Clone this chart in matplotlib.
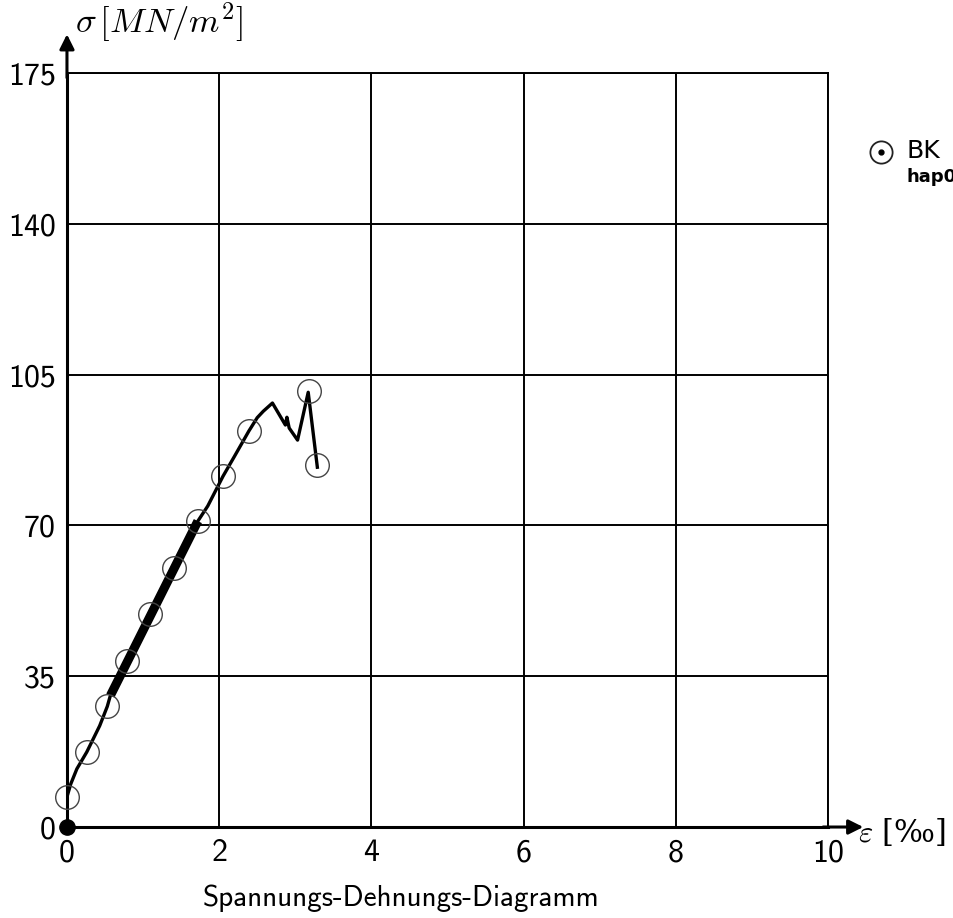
import numpy as np
import matplotlib
matplotlib.use("Agg")
import matplotlib.pyplot as plt

plt.rcParams['mathtext.fontset'] = 'cm'
plt.rcParams['font.family'] = ['cmss10', 'DejaVu Sans']
plt.rcParams['axes.unicode_minus'] = False

# thin measured curve (strain in permille, stress in MN/m^2)
curve_eps = [0.0, 0.05, 0.13, 0.26, 0.43, 0.53, 0.57, 1.72, 1.85, 2.05, 2.2, 2.39,
             2.5, 2.58, 2.7, 2.87, 2.89, 2.92, 3.03, 3.17, 3.29]
curve_sig = [7.0, 10.0, 13.5, 17.4, 23.5, 28.0, 30.5, 71.0, 74.5, 81.4, 86.0, 91.9,
             95.0, 96.5, 98.4, 93.3, 95.1, 92.6, 89.8, 100.9, 83.5]

# thick linear part used for the modulus
lin_eps = [0.57, 1.72]
lin_sig = [30.5, 71.0]

# circled measuring points
pts_eps = [0.0, 0.26, 0.53, 0.79, 1.09, 1.41, 1.72, 2.05, 2.39, 3.18, 3.28]
pts_sig = [7.0, 17.4, 28.1, 38.5, 49.4, 60.1, 71.0, 81.4, 91.9, 101.2, 84.0]

xticks = [0, 2, 4, 6, 8, 10]
yticks = [0, 35, 70, 105, 140, 175]

fig = plt.figure(figsize=(9.54, 9.18), dpi=100)
ax = fig.add_axes([0.0702, 0.0991, 0.7977, 0.8214])

ax.set_xlim(0, 10)
ax.set_ylim(0, 175)
ax.set_xticks(xticks)
ax.set_yticks(yticks)
ax.set_xticklabels([str(t) for t in xticks], fontsize=23)
ax.set_yticklabels([str(t) for t in yticks], fontsize=23)
ax.tick_params(axis='x', length=0, pad=8)
ax.tick_params(axis='y', length=0, pad=8)
ax.grid(True, color='black', linewidth=1.4)
ax.set_axisbelow(True)
for s in ['top', 'right']:
    ax.spines[s].set_linewidth(1.4)
for s in ['left', 'bottom']:
    ax.spines[s].set_linewidth(2.2)

ax.plot(curve_eps, curve_sig, color='black', linewidth=2.4, zorder=3)
ax.plot(lin_eps, lin_sig, color='black', linewidth=6.5, solid_capstyle='butt', zorder=4)
ax.plot(pts_eps, pts_sig, linestyle='none', marker='o', markersize=17,
        markerfacecolor='none', markeredgecolor='#444444', markeredgewidth=1.0,
        clip_on=False, zorder=5)
ax.plot([0], [0], marker='o', markersize=11, color='black', clip_on=False, zorder=6)

# axis arrows
ax.annotate('', xy=(1.05, 0), xytext=(0.99, 0), xycoords='axes fraction',
            arrowprops=dict(arrowstyle='-|>', color='black', lw=2.2, mutation_scale=22))
ax.annotate('', xy=(0, 1.055), xytext=(0, 0.99), xycoords='axes fraction',
            arrowprops=dict(arrowstyle='-|>', color='black', lw=2.2, mutation_scale=22))

fig.text(0.079, 0.976, r'$\sigma\,[MN/m^2]$', fontsize=25, va='center', ha='left')
fig.text(0.899, 0.093, r'$\varepsilon$ [‰]', fontsize=22, va='center', ha='left',
         family=['DejaVu Serif'])

# legend entry at the right edge
ax.plot([1.070], [0.895], transform=ax.transAxes, marker='o', markersize=16,
        markerfacecolor='none', markeredgecolor='#222222', markeredgewidth=1.3, clip_on=False)
ax.plot([1.070], [0.895], transform=ax.transAxes, marker='o', markersize=3.5,
        color='black', clip_on=False)
ax.text(1.103, 0.897, 'BK', transform=ax.transAxes, fontsize=18, va='center', ha='left',
        family=['DejaVu Sans'])
ax.text(1.103, 0.862, 'hap01', transform=ax.transAxes, fontsize=13, va='center', ha='left',
        family=['DejaVu Sans'], weight='bold')

fig.text(0.42, 0.022, 'Spannungs-Dehnungs-Diagramm', fontsize=21, ha='center', va='center')

fig.savefig('out.png', dpi=100)
